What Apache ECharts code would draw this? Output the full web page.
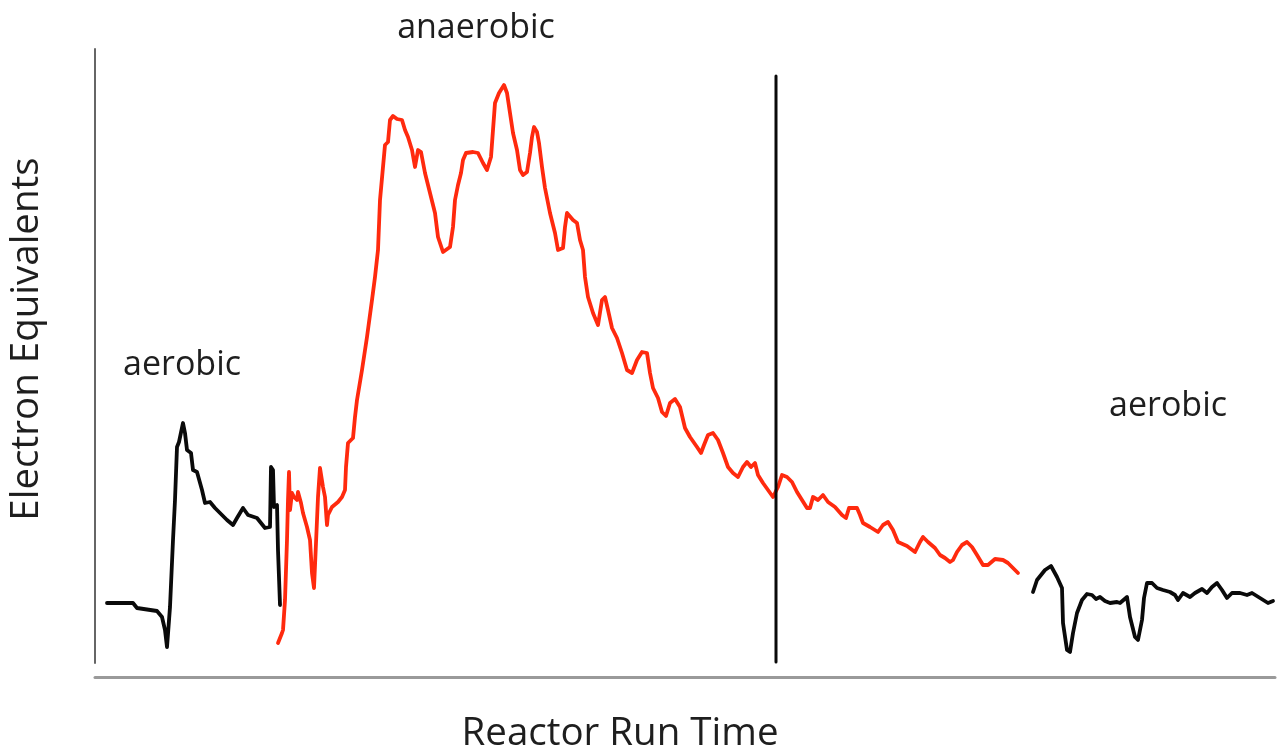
<!DOCTYPE html>
<html>
<head>
<meta charset="utf-8">
<script src="https://cdn.jsdelivr.net/npm/echarts@6/dist/echarts.min.js"></script>
<style>
html,body{margin:0;padding:0;background:#fff;}
#chart{width:1282px;height:749px;}
</style>
</head>
<body>
<div id="chart"></div>
<script>
// Axis titles and phase labels
var xAxisTitle = 'Reactor Run Time';
var yAxisTitle = 'Electron Equivalents';
var phaseLabels = ['aerobic', 'anaerobic', 'aerobic'];

// [run time, electron equivalents] (arbitrary units)
var aerobicBefore = [
  [12,60],[38,60],[42,55],[62,52],[67,46],[70,33],[72,16],[75,56],[78,123],[80,163],
  [82,216],[84,221],[88,240],[90,230],[92,213],[96,210],[98,193],[102,191],[107,173],
  [110,160],[115,161],[120,155],[125,150],[132,143],[138,138],[142,145],[148,155],
  [153,148],[162,145],[170,135],[175,136],[176,196],[178,193],[179,156],[182,158],
  [183,113],[185,58]
];

var anaerobic = [
  [183,20],[187,30],[188,33],[190,63],[192,123],[193,163],[194,191],[195,153],[197,170],
  [199,166],[202,163],[203,171],[206,160],[208,150],[212,136],[215,123],[217,90],[219,75],
  [221,120],[223,166],[225,195],[228,176],[230,166],[232,138],[233,148],[237,156],[243,161],
  [247,166],[250,173],[251,196],[253,220],[258,225],[260,246],[262,263],[267,293],[272,326],
  [277,363],[280,386],[283,413],[285,463],[288,496],[290,518],[293,521],[295,543],[298,547],
  [302,544],[307,543],[310,533],[313,526],[317,513],[320,496],[323,513],[326,511],[330,490],
  [335,470],[340,450],[343,426],[348,411],[355,416],[358,436],[360,463],[363,478],[366,490],
  [368,503],[371,510],[378,511],[383,510],[388,500],[392,493],[396,506],[398,533],[400,560],
  [404,570],[409,578],[412,570],[415,550],[418,530],[422,513],[425,493],[428,488],[432,491],
  [435,510],[437,526],[439,536],[442,531],[444,520],[447,496],[450,475],[455,450],[460,430],
  [463,413],[468,415],[470,436],[472,450],[478,443],[482,440],[485,423],[488,413],[490,386],
  [493,366],[498,350],[503,338],[507,363],[510,366],[513,353],[517,335],[522,325],[527,310],
  [532,293],[537,290],[542,303],[547,311],[552,310],[555,290],[558,275],[563,265],[567,251],
  [571,247],[575,260],[580,264],[585,256],[590,235],[595,226],[602,216],[606,210],[609,218],
  [613,228],[618,230],[623,223],[628,210],[633,196],[638,190],[643,186],[648,196],[652,201],
  [656,196],[660,200],[663,188],[668,180],[673,173],[678,166],[683,176],[687,188],[692,186],
  [697,181],[702,171],[707,163],[712,155],[715,155],[718,166],[723,163],[728,168],[733,161],
  [740,156],[747,148],[751,145],[754,155],[762,155],[765,148],[768,140],[775,136],[783,131],
  [788,138],[793,141],[798,133],[803,121],[812,117],[820,111],[825,121],[828,126],[833,121],
  [840,115],[845,108],[850,105],[855,101],[858,103],[862,111],[867,118],[872,121],[877,116],
  [882,108],[888,98],[893,98],[900,104],[908,103],[913,100],[918,95],[923,90]
];

var aerobicAfter = [
  [938,71],[942,83],[950,93],[956,97],[958,95],[962,86],[967,75],[968,40],[972,13],[975,11],
  [978,30],[982,50],[987,63],[992,69],[997,68],[1001,64],[1005,66],[1010,62],[1015,60],
  [1022,61],[1025,60],[1032,66],[1035,46],[1040,26],[1043,23],[1047,43],[1049,65],[1052,80],
  [1057,80],[1062,75],[1068,73],[1075,71],[1080,68],[1083,63],[1088,70],[1095,66],[1100,70],
  [1107,74],[1112,70],[1117,76],[1122,80],[1127,73],[1132,65],[1137,70],[1145,70],[1152,68],
  [1157,70],[1165,65],[1173,60],[1178,62]
];

// vertical divider marker
var dividerLine = [[681,1],[681,587]];

var chart = echarts.init(document.getElementById('chart'), null, {renderer:'canvas'});
var FONT = '"Open Sans", "Noto Sans", sans-serif';
var TXT = '#1e1e1e';

function lineSeries(data, color, width) {
  return {
    type: 'line', data: data, symbol: 'none', silent: true, animation: false,
    lineStyle: {color: color, width: width, join: 'round', cap: 'round'}
  };
}

chart.setOption({
  animation: false,
  backgroundColor: '#ffffff',
  grid: {left: 95, right: 7, top: 49, bottom: 86, containLabel: false, outerBoundsMode: 'none'},
  xAxis: {
    type: 'value', min: 0, max: 1180, offset: 14,
    name: xAxisTitle, nameLocation: 'middle', nameGap: 38,
    nameTextStyle: {fontFamily: FONT, fontSize: 38.5, color: TXT, padding: [0, 130, 0, 0]},
    axisLine: {show: true, onZero: false, lineStyle: {color: '#9a9a9a', width: 3}},
    axisTick: {show: false}, axisLabel: {show: false}, splitLine: {show: false}
  },
  yAxis: {
    type: 'value', min: 0, max: 614,
    name: yAxisTitle, nameLocation: 'middle', nameGap: 48, nameRotate: 90,
    nameTextStyle: {fontFamily: FONT, fontSize: 38.5, color: TXT, padding: [0, 0, 0, 34]},
    axisLine: {show: true, onZero: false, lineStyle: {color: '#666666', width: 2}},
    axisTick: {show: false}, axisLabel: {show: false}, splitLine: {show: false}
  },
  series: [
    lineSeries(aerobicBefore, '#0a0a0a', 3.8),
    lineSeries(anaerobic, '#ff2a0e', 3.8),
    lineSeries(aerobicAfter, '#0a0a0a', 3.8),
    lineSeries(dividerLine, '#0a0a0a', 3)
  ],
  graphic: [
    {type: 'text', silent: true, style: {x: 182, y: 365, text: phaseLabels[0], font: '34px ' + FONT, fill: TXT, align: 'center', verticalAlign: 'middle'}},
    {type: 'text', silent: true, style: {x: 476, y: 28, text: phaseLabels[1], font: '34px ' + FONT, fill: TXT, align: 'center', verticalAlign: 'middle'}},
    {type: 'text', silent: true, style: {x: 1168, y: 406, text: phaseLabels[2], font: '34px ' + FONT, fill: TXT, align: 'center', verticalAlign: 'middle'}}
  ]
});
</script>
</body>
</html>
